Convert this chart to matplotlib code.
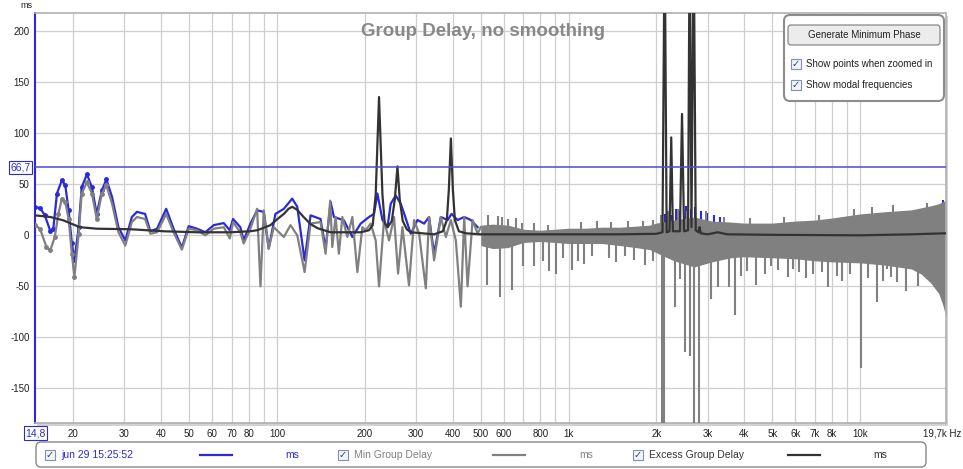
import matplotlib.pyplot as plt
from matplotlib.patches import FancyBboxPatch, Rectangle
from matplotlib.ticker import NullLocator

plt.rcParams['font.family'] = ['Liberation Sans', 'DejaVu Sans']
plt.rcParams['axes.unicode_minus'] = False

# measurement (blue), low frequency part
blue_freq = [14.8, 15.4, 16.0, 16.7, 17.1, 17.6, 18.3, 18.8, 19.3, 19.8, 20.2, 20.9, 21.4, 22.3,
             23.2, 24.1, 25.1, 26.0, 27.2, 28.6, 30.2, 31.8, 33.1, 35.3, 36.8, 38.8, 41.7, 44.2,
             47.2, 49.8, 53.2, 56.8, 60.7, 65.7, 68.9, 70.7, 74.9, 76.9, 81.1, 85.5, 90.1, 93.7,
             98.8, 105.6, 112.8, 117.4, 124.4, 130.4, 141.1, 146.8, 152.8, 156.8, 169.7, 181.4,
             193.7, 206.9, 215.2, 221.1, 230.0, 239.3, 245.6, 255.5, 265.8, 274.3, 287.7, 303.4,
             319.7, 332.4, 345.9, 364.8, 385.0, 397.0, 416.3, 438.7, 462.4, 487.7]
blue_ms = [27.7, 26.8, 19.6, 4.2, 6.5, 41, 54, 49, 24.5, -8, -24.5, 8, 47, 60,
           47, 21, 44, 55, 37.5, 8, -5, 18, 23, 21, 4, 6.5, 26, 6.5,
           -12, 9, 6.5, 3, 10, 12, 5, 16, 8, -5, 11.5, 24.5, 23, -13,
           21, 26, 36, 28, -24.5, 19.6, 16, -13, 32.7, 18, 14.7, -1.6,
           11.5, 18, 21, 41, 15, 8, 31, 39, 31, 19.6, 1.6, 15,
           11.5, 18, -18, 18, 15, 21, 15, 18, 15, 8]

# blue tips showing above the grey band around 2-3 kHz
blue_tip_freq = [2150, 2250, 2330, 2420, 2520, 2640, 2720, 2850, 2980, 3150, 3300, 19300]
blue_tip_ms = [21, 20, 26, 24, 29, 26, 28, 24, 22, 20, 18, 35]

# min group delay (grey), low frequency part
gray_freq = [14.8, 15.4, 16.2, 16.7, 17.3, 17.8, 18.3, 18.8, 19.3, 19.8, 20.2, 20.9, 21.4, 22.3,
             23.2, 24.1, 25.1, 26.0, 27.2, 28.6, 30.2, 31.8, 33.1, 35.3, 36.8, 38.8, 41.7, 44.2,
             47.2, 49.8, 53.2, 56.8, 60.7, 65.7, 68.9, 70.7, 74.9, 76.9, 81.1, 85.5, 87.8, 90.1,
             93.7, 97.5, 105.6, 111.3, 117.4, 124.4, 130.4, 141.1, 146.8, 152.3, 154.8, 158.9,
             163.1, 167.6, 174.3, 181.4, 188.7, 196.3, 201.5, 209.6, 218.1, 223.9, 232.9, 242.3,
             252.1, 260.2, 269.4, 283.7, 295.3, 307.3, 324.0, 332.4, 345.9, 364.8, 379.5, 394.9,
             410.7, 427.3, 438.7, 450.5, 468.7, 487.7, 500]
gray_ms = [9.8, 6.5, -11.5, -14.7, -1.6, 21, 36, 32.7, 16, -18, -41, 1.6, 41, 52,
           41, 16, 41, 49, 31, 3, -10, 13, 18, 16, 1.6, 3, 21, 3,
           -14, 6.5, 5, 0, 6.5, 8, -3, 13, 3, -8, 6.5, 26, -50, 24.5,
           -13, 8, -1.6, 10, 0, -36, 11.5, 13, -18, 34, -11.5, 18,
           -18, 18, -1.6, 18, -36, 8, 5, 11.5, -5, -50, 15, -5,
           18, -37.5, 8, -49, 15, 1.6, -52, 18, -24.5, 18, -1.6, 15,
           -5, -70, 18, -50, 15, 1.6, 8]

# grey band above 500 Hz (bulk extent)
env_freq = [500, 550, 620, 700, 800, 900, 1000, 1150, 1300, 1500, 1700, 1900, 2000, 2300, 2700,
            3100, 3600, 4000, 5000, 6000, 7000, 8000, 10000, 12000, 15000, 16200, 17500, 18600,
            19200, 19700]
env_upper = [10, 11, 10, 6, 5, 6, 7, 7, 8, 8, 9, 10, 12, 15, 18,
             14, 13, 12, 12, 14, 15, 17, 21, 23, 25, 27, 29, 31, 33, 34]
env_lower = [-10, -13, -12, -7, -6, -7, -8, -8, -8, -10, -12, -14, -17, -25, -31,
             -26, -22, -21, -22, -23, -25, -26, -27, -29, -33, -38, -47, -57, -68, -80]

# single spikes of the grey curve
spike_freq = [524, 580, 642, 700, 760, 820, 860, 904, 960, 1030, 1080, 1133, 1200, 1380, 1450,
              1560, 1680, 1830, 1950, 2090, 2130, 2310, 2404, 2500, 2600, 2690, 2800, 3087,
              3248, 3554, 3724, 3900, 4100, 4390, 4700, 4950, 5230, 5670, 5900, 6180, 6500,
              6900, 7400, 7778, 8300, 8700, 9200, 10043, 10600, 11400, 12000, 12340, 12800,
              13350, 14400, 15800,
              530, 575, 590, 620, 660, 690, 760, 850, 1100, 1250, 1400, 1600, 1800, 1950,
              2080, 2200, 2380, 2550, 2950, 3400, 4200, 5500, 7200, 9500, 11000, 13000, 17000]
spike_ms = [-49, -60, -54, -30, -30, -25, -35, -38, -22, -34, -25, -28, -20, -22, -26,
            -20, -24, -29, -25, -190, -190, -70, -43, -114, -118, -190, -190, -62,
            -51, -51, -78, -40, -35, -49, -38, -30, -34, -41, -33, -36, -42,
            -38, -36, -51, -40, -45, -38, -130, -42, -65, -45, -33, -41,
            -46, -55, -50,
            20, 19, 18, 16, 17, 12, 12, 10, 13, 14, 13, 14, 14, 15,
            20, 24, 26, 24, 24, 18, 17, 18, 20, 26, 28, 30, 32]

# excess group delay (dark)
excess_freq = [14.8, 16.7, 18.5, 21.1, 24.1, 31.4, 40.8, 53.2, 69.2, 81.1, 85.5, 91.3, 95.0,
               100.4, 105.6, 109.6, 112.8, 117.4, 123.4, 130.4, 137.8, 152.8, 172.0, 193.7,
               206.9, 213.0, 218.1, 223.9, 230.0, 234.2, 239.8, 247.6, 253.6, 259.0, 263.7,
               270.1, 278.7, 287.7, 345.9, 370.6, 382.6, 388.6, 394.9, 401.1, 407.6, 420.6,
               444.6, 500, 1000, 1500, 2000, 2100, 2136, 2170, 2220, 2250, 2280, 2410, 2450,
               2490, 2570, 2602, 2640, 2686, 2730, 2790, 2815, 2840, 3000, 3250, 3500, 5000,
               10000, 15000, 19700]
excess_ms = [19.6, 18, 14.7, 8, 6.5, 6, 4, 3, 3, 4, 5, 8, 10,
             16, 21, 26, 28, 25, 18, 11, 7, 3, 3, 3,
             5, 10, 40, 135.6, 40, 12, 8, 14, 35, 67.6, 35,
             14, 6, 3, 1, 4, 15, 45, 95, 45, 15, 4,
             2, 1, 1, 1, 1.5, 3, 300, 3, 4, 96, 4, 4, 119,
             4, 5, 300, 8, 300, 5, 3, 8, 2, 1, 3, 1, 0.5,
             0, 1, 2]

yticks = [-150, -100, -50, 0, 50, 100, 150, 200]
grid_freqs = [20, 30, 40, 50, 60, 70, 80, 90, 100, 200, 300, 400, 500, 600, 700, 800, 900,
              1000, 2000, 3000, 4000, 5000, 6000, 7000, 8000, 9000, 10000]
grid_labels = ['20', '30', '40', '50', '60', '70', '80', '', '100', '200', '300', '400', '500',
               '600', '', '800', '', '1k', '2k', '3k', '4k', '5k', '6k', '7k', '8k', '', '10k']

BLUE = '#2a2ad8'
GRAY = '#808080'
DARK = '#333333'

W, H = 963, 469
fig = plt.figure(figsize=(W / 100, H / 100), dpi=100)
fig.patch.set_facecolor('white')


def fx(x):
    return x / W


def fy(y):
    return 1 - y / H


# shadow behind the plot frame
fig.patches.append(Rectangle((fx(37), fy(426)), fx(946) - fx(35), fy(13) - fy(423),
                             transform=fig.transFigure, fc='#d2d2d2', ec='none', zorder=-1))

ax = fig.add_axes([fx(35), fy(423), fx(946) - fx(35), fy(13) - fy(423)])
ax.set_xscale('log')
ax.set_xlim(14.8, 19700)
ax.set_ylim(-184, 218)

ax.vlines(blue_tip_freq, 0, blue_tip_ms, color=BLUE, lw=1.5, zorder=1.5)
ax.fill_between(env_freq, env_lower, env_upper, color=GRAY, lw=0, zorder=2)
ax.plot(blue_freq, blue_ms, color=BLUE, lw=1.6, zorder=3)
ax.plot(gray_freq, gray_ms, color=GRAY, lw=1.6, zorder=4)
ax.vlines(spike_freq, 0, spike_ms, color=GRAY, lw=1.5, zorder=4)
ax.plot(excess_freq, excess_ms, color=DARK, lw=1.6, zorder=5)

# points shown when zoomed in
pts_b = [(f, v) for f, v in zip(blue_freq, blue_ms) if f < 27]
pts_g = [(f, v) for f, v in zip(gray_freq, gray_ms) if f < 27]
ax.plot([p[0] for p in pts_b], [p[1] for p in pts_b], 'o', color=BLUE, ms=2.5, zorder=3)
ax.plot([p[0] for p in pts_g], [p[1] for p in pts_g], 'o', color=GRAY, ms=2.5, zorder=4)

ax.axhline(66.7, color='#4a4ae0', lw=1.1, zorder=6)

ax.set_yticks(yticks)
ax.set_xticks(grid_freqs)
ax.set_xticklabels(grid_labels)
ax.xaxis.set_minor_locator(NullLocator())
ax.grid(True, color='#cfcfcf', lw=0.9)
ax.set_axisbelow(True)
ax.tick_params(length=0, labelsize=7, pad=4, colors='#222222')
for s in ax.spines.values():
    s.set_color('#b0b0b0')
    s.set_linewidth(1.2)
ax.spines['left'].set_color('#2a2ad8')
ax.spines['left'].set_linewidth(1.5)

ax.text(0.492, 0.975, 'Group Delay, no smoothing', transform=ax.transAxes, ha='center',
        va='top', fontsize=13.5, fontweight='bold', color='#888888', zorder=7)

# overlay in pixel units for the widgets
ov = fig.add_axes([0, 0, 1, 1], zorder=10)
ov.set_xlim(0, W)
ov.set_ylim(H, 0)
ov.axis('off')

ov.text(26, 5, 'ms', fontsize=6.5, ha='center', va='center', color='#222222')
ov.text(961, 433, '19,7k Hz', fontsize=7, ha='right', va='center', color='#222222')
ov.text(20.5, 167.5, '66,7', fontsize=7.5, ha='center', va='center', color=BLUE,
        bbox=dict(boxstyle='square,pad=0.15', fc='white', ec=BLUE, lw=0.8))
ov.text(35.5, 433, '14,8', fontsize=7.5, ha='center', va='center', color=BLUE,
        bbox=dict(boxstyle='square,pad=0.15', fc='white', ec=BLUE, lw=0.8))


def checkbox(x, y):
    ov.add_patch(Rectangle((x, y - 5), 10, 10, fc='#f2f4f8', ec='#8090b0', lw=0.8))
    ov.text(x + 5, y, '✓', fontsize=7, ha='center', va='center', color='#2a3a8a',
            family=['DejaVu Sans'])


# top right panel
ov.add_patch(FancyBboxPatch((784, 15), 160, 86, boxstyle='round,pad=0,rounding_size=6',
                            fc='white', ec='#8c8c8c', lw=1.5))
ov.add_patch(FancyBboxPatch((788, 25), 152, 20, boxstyle='round,pad=0,rounding_size=3',
                            fc='#ececec', ec='#7a7a7a', lw=0.8))
ov.text(864, 35, 'Generate Minimum Phase', fontsize=7, ha='center', va='center',
        color='#222222')
checkbox(791, 64)
ov.text(806, 64, 'Show points when zoomed in', fontsize=7, ha='left', va='center',
        color='#222222')
checkbox(791, 85)
ov.text(806, 85, 'Show modal frequencies', fontsize=7, ha='left', va='center',
        color='#222222')

# legend strip
ov.add_patch(FancyBboxPatch((36, 442), 890, 25, boxstyle='round,pad=0,rounding_size=5',
                            fc='white', ec='#888888', lw=1))
legend_items = [(45, 'jun 29 15:25:52', BLUE, 200, 292),
                (338, 'Min Group Delay', GRAY, 493, 586),
                (633, 'Excess Group Delay', DARK, 788, 880)]
for cx, name, col, lx, mx in legend_items:
    checkbox(cx, 455)
    ov.text(cx + 16, 455, name, fontsize=7.5, ha='left', va='center', color=col)
    ov.plot([lx, lx + 32], [455, 455], color=col, lw=1.6)
    ov.text(mx, 455, 'ms', fontsize=7.5, ha='center', va='center', color=col)

fig.savefig('out.png', dpi=100)
